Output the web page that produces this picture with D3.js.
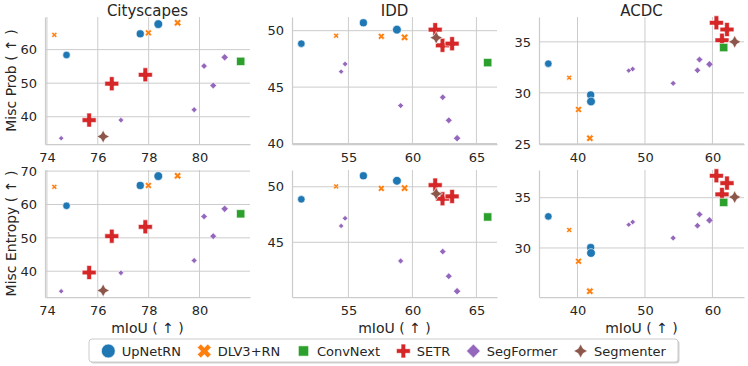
<!DOCTYPE html>
<html>
<head>
<meta charset="utf-8">
<script src="https://cdn.jsdelivr.net/npm/d3@7/dist/d3.min.js"></script>
<style>
  body { margin: 0; background: #fff; }
  svg text { font-family: "DejaVu Sans", sans-serif; fill: #262626; }
</style>
</head>
<body>
<div></div>
<script>
// ---------------- data ----------------
var datasets = ["Cityscapes", "IDD", "ACDC"];
var metricLabels = ["Misc Prob ( \u2191 )", "Misc Entropy ( \u2191 )"];
var models = ["UpNetRN", "DLV3+RN", "ConvNext", "SETR", "SegFormer", "Segmenter"];

// one entry per trained model (same order in every dataset array)
var pointModel = [
  "UpNetRN", "UpNetRN", "UpNetRN",
  "DLV3+RN", "DLV3+RN", "DLV3+RN",
  "SETR", "SETR", "SETR",
  "SegFormer", "SegFormer", "SegFormer", "SegFormer", "SegFormer", "SegFormer",
  "ConvNext", "Segmenter"
];
// model size (estimated, M params), drives marker size
var pointParams = [63, 78, 100, 15, 43, 57, 322, 322, 322, 11, 17, 24, 37, 44, 57, 213, 257];

var cityMiou = [74.77, 77.67, 78.38, 74.29, 77.99, 79.14, 75.66, 76.55, 77.87, 74.56, 76.91, 79.79, 80.18, 80.54, 80.99, 81.62, 76.21];
var cityProb = [58.4, 64.7, 67.6, 64.4, 65.0, 68.0, 39.0, 49.85, 52.5, 33.6, 39.0, 42.1, 55.1, 49.3, 57.7, 56.5, 34.1];
var cityEnt  = [59.6, 65.7, 68.5, 65.3, 65.7, 68.6, 39.6, 50.5, 53.3, 34.0, 39.5, 43.2, 56.4, 50.5, 58.7, 57.2, 34.25];

var iddMiou = [51.32, 56.17, 58.79, 54.04, 57.57, 59.39, 61.78, 62.35, 63.1, 54.43, 54.74, 59.08, 62.37, 62.84, 63.49, 65.88, 61.86];
var iddProb = [48.85, 50.7, 50.09, 49.56, 49.5, 49.41, 50.09, 48.7, 48.85, 46.37, 47.05, 43.36, 44.1, 42.06, 40.47, 47.17, 49.38];
var iddEnt  = [48.87, 50.99, 50.54, 50.03, 49.85, 49.88, 50.15, 48.92, 49.13, 46.47, 47.16, 43.32, 44.16, 41.94, 40.59, 47.28, 49.37];

var acdcMiou = [35.67, 41.95, 42.0, 38.77, 40.15, 41.83, 60.59, 62.16, 61.42, 47.59, 48.18, 54.18, 57.78, 58.08, 59.56, 61.67, 63.3];
var acdcProb = [32.86, 29.8, 29.15, 31.49, 28.37, 25.55, 36.87, 36.21, 35.16, 32.18, 32.34, 30.93, 32.21, 33.26, 32.8, 34.44, 35.0];
var acdcEnt  = [33.14, 30.04, 29.5, 31.79, 28.68, 25.7, 37.18, 36.45, 35.33, 32.32, 32.58, 30.99, 32.22, 33.34, 32.75, 34.53, 35.06];

// tick labels
var cityXTicks = [74, 76, 78, 80];
var iddXTicks = [55, 60, 65];
var acdcXTicks = [40, 50, 60];
var cityProbTicks = [40, 50, 60];
var iddProbTicks = [40, 45, 50];
var acdcProbTicks = [25, 30, 35];
var cityEntTicks = [40, 50, 60, 70];
var iddEntTicks = [45, 50];
var acdcEntTicks = [30, 35];

// ---------------- layout ----------------
var width = 748;
var height = 366;
var colLeft = [45, 292, 539];
var rowTop = [17, 170];
var panelW = 205;
var panelH = 127;
var gridColor = "#cccccc";

var color = d3.scaleOrdinal()
  .domain(models)
  .range(["#1f77b4", "#ff7f0e", "#2ca02c", "#d62728", "#9467bd", "#8c564b"]);

// marker area (px^2) from model size
var sizeScale = d3.scaleLinear().domain([0, 330]).range([22, 200]);

// marker outlines, e = nominal marker extent in px
function markerPath(model, e) {
  var h = e / 2;
  var pts;
  if (model == "UpNetRN") {
    return d3.symbol(d3.symbolCircle, Math.PI * h * h)();
  } else if (model == "SETR") {
    pts = [[-1, -3], [1, -3], [1, -1], [3, -1], [3, 1], [1, 1], [1, 3], [-1, 3], [-1, 1], [-3, 1], [-3, -1], [-1, -1]]
      .map(function(p) { return [p[0] * e / 6, p[1] * e / 6]; });
  } else if (model == "DLV3+RN") {
    pts = [[-1, -2], [0, -1], [1, -2], [2, -1], [1, 0], [2, 1], [1, 2], [0, 1], [-1, 2], [-2, 1], [-1, 0], [-2, -1]]
      .map(function(p) { return [p[0] * e / 4, p[1] * e / 4]; });
  } else if (model == "ConvNext") {
    var s = h * Math.SQRT1_2;
    pts = [[-s, -s], [s, -s], [s, s], [-s, s]];
  } else if (model == "SegFormer") {
    pts = [[0, -h], [h, 0], [0, h], [-h, 0]];
  } else {
    pts = [];
    for (var k = 0; k < 8; k++) {
      var r = k % 2 == 0 ? h : h * 0.5;
      var ang = -Math.PI / 2 + k * Math.PI / 4;
      pts.push([r * Math.cos(ang), r * Math.sin(ang)]);
    }
  }
  return "M" + pts.map(function(p) { return p[0].toFixed(2) + "," + p[1].toFixed(2); }).join("L") + "Z";
}

function padded(values) {
  var ext = d3.extent(values);
  var pad = (ext[1] - ext[0]) * 0.05;
  return [ext[0] - pad, ext[1] + pad];
}

var panels = [
  { row: 0, col: 0, xv: cityMiou, yv: cityProb, xt: cityXTicks, yt: cityProbTicks },
  { row: 0, col: 1, xv: iddMiou, yv: iddProb, xt: iddXTicks, yt: iddProbTicks },
  { row: 0, col: 2, xv: acdcMiou, yv: acdcProb, xt: acdcXTicks, yt: acdcProbTicks },
  { row: 1, col: 0, xv: cityMiou, yv: cityEnt, xt: cityXTicks, yt: cityEntTicks },
  { row: 1, col: 1, xv: iddMiou, yv: iddEnt, xt: iddXTicks, yt: iddEntTicks },
  { row: 1, col: 2, xv: acdcMiou, yv: acdcEnt, xt: acdcXTicks, yt: acdcEntTicks }
];

var svg = d3
  .select("body")
  .select("div")
  .append("svg")
  .attr("width", width)
  .attr("height", height);

svg.append("rect").attr("width", width).attr("height", height).attr("fill", "#fff");

panels.forEach(function(p) {
  var g = svg
    .append("g")
    .attr("transform", "translate(" + colLeft[p.col] + "," + rowTop[p.row] + ")");

  var xScale = d3.scaleLinear().domain(padded(p.xv)).range([0, panelW]);
  var yScale = d3.scaleLinear().domain(padded(p.yv)).range([panelH, 0]);

  // grid
  g.append("g")
    .selectAll("line")
    .data(p.xt)
    .enter()
    .append("line")
    .attr("x1", function(d) { return xScale(d); })
    .attr("x2", function(d) { return xScale(d); })
    .attr("y1", 0)
    .attr("y2", panelH)
    .attr("stroke", gridColor)
    .attr("stroke-width", 1);
  g.append("g")
    .selectAll("line")
    .data(p.yt)
    .enter()
    .append("line")
    .attr("x1", 0)
    .attr("x2", panelW)
    .attr("y1", function(d) { return yScale(d); })
    .attr("y2", function(d) { return yScale(d); })
    .attr("stroke", gridColor)
    .attr("stroke-width", 1);

  // points
  var pts = p.xv.map(function(v, i) {
    return { x: v, y: p.yv[i], model: pointModel[i], params: pointParams[i] };
  });
  g.append("g")
    .selectAll("path")
    .data(pts)
    .enter()
    .append("path")
    .attr("d", function(d) { return markerPath(d.model, Math.sqrt(sizeScale(d.params))); })
    .attr("transform", function(d) { return "translate(" + xScale(d.x) + "," + yScale(d.y) + ")"; })
    .attr("fill", function(d) { return color(d.model); })
    .attr("stroke", "#fff")
    .attr("stroke-width", 0.6);

  // axes (no tick marks, left/bottom spines only)
  var xAxis = d3.axisBottom(xScale).tickValues(p.xt).tickSize(0).tickSizeOuter(0).tickPadding(8.5);
  var gx = g.append("g")
    .attr("transform", "translate(0," + panelH + ")")
    .call(xAxis);
  var yAxis = d3.axisLeft(yScale).tickValues(p.yt).tickSize(0).tickSizeOuter(0).tickPadding(8);
  var gy = g.append("g").call(yAxis);

  [gx, gy].forEach(function(ax) {
    ax.select(".domain").attr("stroke", gridColor).attr("stroke-width", 1.25);
    ax.selectAll("text")
      .style("font-size", "13px")
      .style("font-family", "'DejaVu Sans', sans-serif")
      .attr("fill", "#262626");
  });

  if (p.row == 0) {
    g.append("text")
      .attr("x", panelW / 2)
      .attr("y", -1.5)
      .attr("text-anchor", "middle")
      .style("font-size", "15px")
      .text(datasets[p.col]);
  } else {
    g.append("text")
      .attr("x", panelW / 2)
      .attr("y", panelH + 35.5)
      .attr("text-anchor", "middle")
      .style("font-size", "14px")
      .text("mIoU ( \u2191 )");
  }

  if (p.col == 0) {
    g.append("text")
      .attr("transform", "translate(" + (16 - colLeft[0]) + "," + panelH / 2 + ") rotate(-90)")
      .attr("text-anchor", "middle")
      .style("font-size", "14px")
      .text(metricLabels[p.row]);
  }
});

// ---------------- legend ----------------
var legend = svg.append("g");
var legX = 89, legY = 339, legW = 589, legH = 23;

legend.append("rect")
  .attr("x", legX + 1.5)
  .attr("y", legY + 1.5)
  .attr("width", legW)
  .attr("height", legH)
  .attr("rx", 3)
  .attr("fill", "#000")
  .attr("opacity", 0.18);
legend.append("rect")
  .attr("x", legX)
  .attr("y", legY)
  .attr("width", legW)
  .attr("height", legH)
  .attr("rx", 3)
  .attr("fill", "#fff")
  .attr("stroke", gridColor)
  .attr("stroke-width", 1);

var cursor = 108.3;
var legCy = legY + legH / 2 + 0.5;
models.forEach(function(m) {
  legend.append("path")
    .attr("d", markerPath(m, m == "ConvNext" ? 14.5 : 13.8))
    .attr("transform", "translate(" + cursor + "," + legCy + ")")
    .attr("fill", color(m))
    .attr("stroke", "#fff")
    .attr("stroke-width", 0.6);
  var t = legend.append("text")
    .attr("x", cursor + 13.4)
    .attr("y", legCy)
    .attr("dy", "0.35em")
    .style("font-size", "13px")
    .text(m);
  cursor = cursor + 13.4 + t.node().getComputedTextLength() + 23.2;
});
</script>
</body>
</html>
